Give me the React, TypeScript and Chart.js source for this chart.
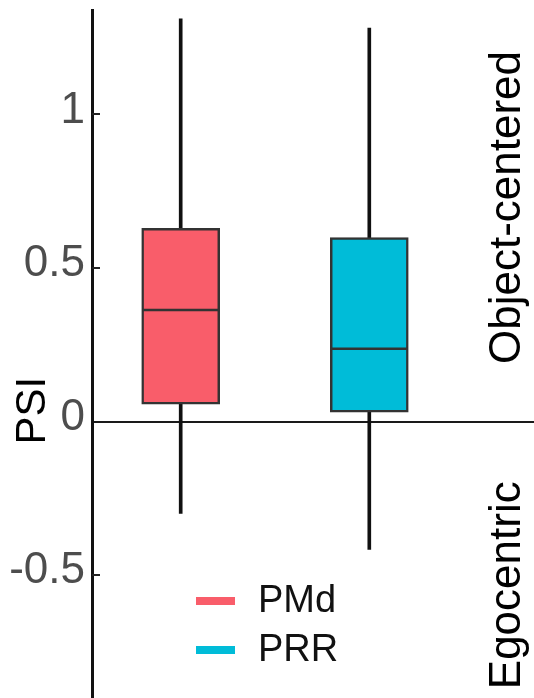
import React, { useEffect, useRef } from 'react';
import { Chart, registerables } from 'chart.js';

Chart.register(...registerables);

// ---- data ----
const groups = ['PMd', 'PRR'];
const groupX = [1, 2];
const whiskerLow = [-0.299, -0.416];
const q1 = [0.057, 0.031];
const median = [0.363, 0.237];
const q3 = [0.629, 0.599];
const whiskerHigh = [1.311, 1.281];
const yTicks = [-0.5, 0, 0.5, 1];
const yTickLabels = ['-0.5', '0', '0.5', '1'];
const regionLabels = ['Object-centered', 'Egocentric'];
const boxColors = ['#F95D6A', '#00BCD8'];
const yTitle = 'PSI';

const FONT = '"Liberation Sans", Arial, Helvetica, sans-serif';

const decorPlugin = {
  id: 'decor',
  beforeDatasetsDraw(chart: any) {
    const { ctx, chartArea } = chart;
    const y = chart.scales.y;
    ctx.save();
    ctx.strokeStyle = '#222';
    ctx.lineWidth = 2;
    yTicks.forEach((v) => {
      if (v === 0) return;
      const py = Math.round(y.getPixelForValue(v));
      ctx.beginPath();
      ctx.moveTo(chartArea.left, py);
      ctx.lineTo(chartArea.left + 8, py);
      ctx.stroke();
    });
    ctx.restore();
  },
  afterDraw(chart: any) {
    const { ctx } = chart;
    const y = chart.scales.y;
    const zeroPx = y.getPixelForValue(0);
    ctx.save();
    // y title
    ctx.fillStyle = '#000';
    ctx.font = `42px ${FONT}`;
    ctx.textAlign = 'center';
    ctx.textBaseline = 'middle';
    ctx.translate(33, zeroPx - 11);
    ctx.rotate(-Math.PI / 2);
    ctx.fillText(yTitle, 0, 0);
    ctx.restore();

    // region labels on the right
    const regionValues = [0.697, -0.533];
    regionLabels.forEach((t, i) => {
      ctx.save();
      ctx.fillStyle = '#000';
      ctx.font = `44px ${FONT}`;
      ctx.textAlign = 'center';
      ctx.textBaseline = 'alphabetic';
      ctx.translate(520, y.getPixelForValue(regionValues[i]));
      ctx.rotate(-Math.PI / 2);
      ctx.fillText(t, 0, 0);
      ctx.restore();
    });

    // legend
    const legendY = [601, 650];
    groups.forEach((g, i) => {
      ctx.save();
      ctx.fillStyle = boxColors[i];
      ctx.fillRect(196, legendY[i] - 4, 39, 8);
      ctx.fillStyle = '#111';
      ctx.font = `38px ${FONT}`;
      ctx.textAlign = 'left';
      ctx.textBaseline = 'middle';
      ctx.fillText(g, 258, legendY[i] + 1);
      ctx.restore();
    });
  },
};

export default function App() {
  const canvasRef = useRef<HTMLCanvasElement | null>(null);

  useEffect(() => {
    if (!canvasRef.current) return;
    const chart = new Chart(canvasRef.current, {
      type: 'bar',
      data: {
        datasets: [
          {
            type: 'scatter',
            label: 'median',
            data: groupX.map((x, i) => ({ x, y: median[i] })),
            pointStyle: 'line',
            pointRadius: 38,
            pointHoverRadius: 38,
            borderColor: '#333',
            borderWidth: 2.5,
            pointBorderWidth: 2.5,
            pointBorderColor: '#333',
            showLine: false,
          } as any,
          {
            type: 'bar',
            label: 'box',
            data: groupX.map((x, i) => ({ x, y: [q1[i], q3[i]] })),
            backgroundColor: boxColors,
            borderColor: '#333',
            borderWidth: 2.5,
            borderSkipped: false,
            barThickness: 78,
            grouped: false,
          } as any,
          {
            type: 'bar',
            label: 'whisker',
            data: groupX.map((x, i) => ({ x, y: [whiskerLow[i], whiskerHigh[i]] })),
            backgroundColor: '#111',
            borderWidth: 0,
            barThickness: 3,
            grouped: false,
          } as any,
        ],
      },
      options: {
        responsive: false,
        animation: false,
        events: [],
        layout: { autoPadding: false, padding: { top: 10, left: 0, right: 0, bottom: 0 } },
        plugins: {
          legend: { display: false },
          tooltip: { enabled: false },
        },
        scales: {
          x: {
            type: 'linear',
            display: false,
            offset: false,
            min: 0.5297,
            max: 2.8733,
          },
          y: {
            type: 'linear',
            min: -0.9,
            max: 1.34,
            afterFit: (s: any) => {
              s.width = 92;
              s.paddingTop = 0;
              s.paddingBottom = 0;
            },
            afterBuildTicks: (s: any) => {
              s.ticks = yTicks.map((v) => ({ value: v }));
            },
            ticks: {
              font: { size: 44, family: FONT },
              color: '#4d4d4d',
              padding: 7,
              labelOffset: -4,
              autoSkip: false,
              callback: (v: any) => {
                const i = yTicks.indexOf(Number(v));
                return i >= 0 ? yTickLabels[i] : String(v);
              },
            },
            grid: {
              drawTicks: false,
              lineWidth: 2,
              color: (c: any) => (c.tick && c.tick.value === 0 ? '#1a1a1a' : 'rgba(0,0,0,0)'),
            },
            border: { display: true, color: '#111', width: 3 },
          },
        },
      } as any,
      plugins: [decorPlugin],
    });
    return () => chart.destroy();
  }, []);

  return (
    <div style={{ position: 'fixed', left: 0, top: 0, width: 534, height: 698, background: '#fff' }}>
      <canvas ref={canvasRef} width={534} height={698} />
    </div>
  );
}
